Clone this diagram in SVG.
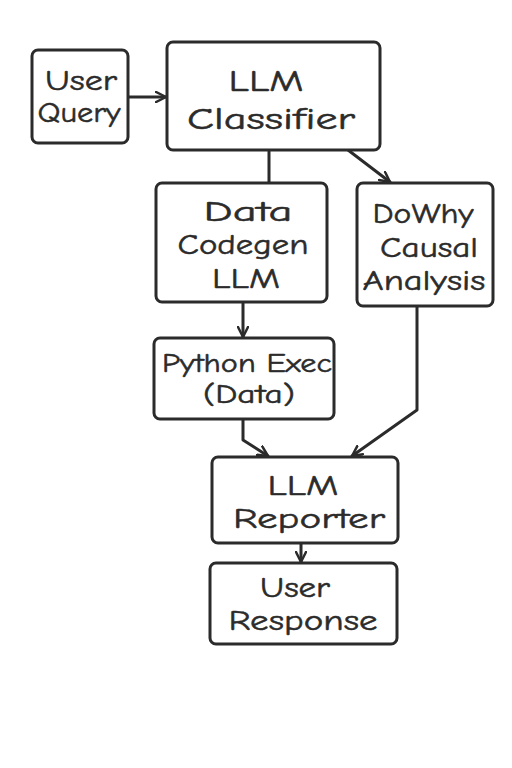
<svg xmlns="http://www.w3.org/2000/svg" width="512" height="768" viewBox="0 0 512 768">
<style>
.box{fill:#fff;stroke:#2b2b2b;stroke-width:3;}
.t{font-family:"Comic Neue","Liberation Sans",sans-serif;fill:#2b2b2b;stroke:#2b2b2b;stroke-width:0.5;text-anchor:middle;font-weight:400;}
.c{fill:none;stroke:#2b2b2b;stroke-width:3;stroke-linecap:round;stroke-linejoin:round;}
</style>
<defs>
<marker id="a" viewBox="0 0 12 12" refX="11" refY="6" markerWidth="12" markerHeight="12" markerUnits="userSpaceOnUse" orient="auto">
<path d="M1,1 L11,6 L1,11" fill="none" stroke="#2b2b2b" stroke-width="2.5" stroke-linecap="round" stroke-linejoin="round"/>
</marker>
</defs>
<rect width="512" height="768" fill="#fff"/>
<g id="connectors">
<path class="c" d="M128,97 L166,97" marker-end="url(#a)"/>
<path class="c" d="M269,150 L269,183"/>
<path class="c" d="M348,150 L390,182" marker-end="url(#a)"/>
<path class="c" d="M243,302 L243,337" marker-end="url(#a)"/>
<path class="c" d="M243,419 L243,440 L268,456" marker-end="url(#a)"/>
<path class="c" d="M417,306 L417,410 L352,456" marker-end="url(#a)"/>
<path class="c" d="M301,543 L301,562" marker-end="url(#a)"/>
</g>
<g id="user-query">
<rect class="box" x="32" y="50" width="96" height="93" rx="6"/>
<text class="t" x="81" y="90" font-size="29" textLength="72" lengthAdjust="spacingAndGlyphs">User</text>
<text class="t" x="79" y="122" font-size="29" textLength="83" lengthAdjust="spacingAndGlyphs">Query</text>
</g>
<g id="llm-classifier">
<rect class="box" x="167" y="42" width="213" height="108" rx="6"/>
<text class="t" x="266" y="91" font-size="31" textLength="75" lengthAdjust="spacingAndGlyphs">LLM</text>
<text class="t" x="271" y="129" font-size="31" textLength="168" lengthAdjust="spacingAndGlyphs">Classifier</text>
</g>
<g id="data-codegen">
<rect class="box" x="156" y="183" width="171" height="119" rx="6"/>
<text class="t" x="248" y="221" font-size="29" textLength="89" lengthAdjust="spacingAndGlyphs">Data</text>
<text class="t" x="243" y="254" font-size="29" textLength="131" lengthAdjust="spacingAndGlyphs">Codegen</text>
<text class="t" x="246" y="288" font-size="29" textLength="68" lengthAdjust="spacingAndGlyphs">LLM</text>
</g>
<g id="dowhy">
<rect class="box" x="357" y="183" width="136" height="123" rx="6"/>
<text class="t" x="423" y="223" font-size="29" textLength="101" lengthAdjust="spacingAndGlyphs">DoWhy</text>
<text class="t" x="429" y="257" font-size="29" textLength="98" lengthAdjust="spacingAndGlyphs">Causal</text>
<text class="t" x="424" y="290" font-size="29" textLength="123" lengthAdjust="spacingAndGlyphs">Analysis</text>
</g>
<g id="python-exec">
<rect class="box" x="154" y="338" width="180" height="81" rx="6"/>
<text class="t" x="247" y="372" font-size="26" textLength="170" lengthAdjust="spacingAndGlyphs">Python Exec</text>
<text class="t" x="249" y="403" font-size="26" textLength="92" lengthAdjust="spacingAndGlyphs">(Data)</text>
</g>
<g id="llm-reporter">
<rect class="box" x="212" y="457" width="186" height="86" rx="6"/>
<text class="t" x="303" y="495" font-size="29" textLength="71" lengthAdjust="spacingAndGlyphs">LLM</text>
<text class="t" x="309" y="528" font-size="29" textLength="152" lengthAdjust="spacingAndGlyphs">Reporter</text>
</g>
<g id="user-response">
<rect class="box" x="210" y="563" width="187" height="81" rx="6"/>
<text class="t" x="295" y="597" font-size="29" textLength="70" lengthAdjust="spacingAndGlyphs">User</text>
<text class="t" x="303" y="630" font-size="29" textLength="149" lengthAdjust="spacingAndGlyphs">Response</text>
</g>
</svg>
